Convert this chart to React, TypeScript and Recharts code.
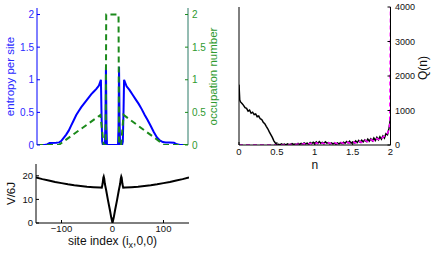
import { LineChart, Line, XAxis, YAxis } from "recharts";

const FONT = "'Liberation Sans', Arial, Helvetica, sans-serif";
const BLUE = "#0000ff";
const BLUE_TXT = "#2a2aff";
const GREEN = "#1b8a1b";
const GREEN_TXT = "#2f9a2f";
const MAGENTA = "#ff00ff";

// site index ticks / y ticks
const siteTicks = [-100, 0, 100];
const unitTicks = [0, 0.5, 1, 1.5, 2];
const vTicks = [0, 10, 20];
const nTicks = [0, 0.5, 1, 1.5, 2];
const qTicks = [0, 1000, 2000, 3000, 4000];

// entropy per site vs site index
const entropyPts: [number, number][] = [
  [-150, 0], [-135, 0], [-130, 0.01], [-125, 0.03], [-112, 0.035], [-106, 0.04],
  [-102, 0.06], [-97, 0.11], [-92, 0.16], [-87, 0.22], [-82, 0.3], [-77, 0.38],
  [-72, 0.46], [-67, 0.52], [-62, 0.58], [-57, 0.63], [-52, 0.68], [-47, 0.73],
  [-42, 0.78], [-37, 0.82], [-32, 0.86], [-27, 0.91], [-23, 1.0], [-22, 0.55],
  [-20.5, 0.05], [-19, 0], [-15, 0], [-14, 0.4], [-13, 1.2], [-12, 0.3], [-11, 0],
  [11, 0], [12, 0.3], [13, 1.2], [14, 0.4], [15, 0], [19, 0], [20.5, 0.05],
  [22, 0.55], [23, 1.0], [28, 0.9], [34, 0.84], [40, 0.77], [46, 0.7], [52, 0.63],
  [58, 0.55], [64, 0.46], [70, 0.38], [76, 0.29], [82, 0.2], [88, 0.12], [94, 0.07],
  [100, 0.045], [106, 0.04], [114, 0.04], [122, 0.035], [128, 0.01], [134, 0], [150, 0],
];

// occupation number vs site index
const occupationPts: [number, number][] = [
  [-150, 0], [-107, 0], [-24, 0.46], [-17.5, 0], [-13.5, 0], [-12.5, 2],
  [12, 2], [13, 0], [17, 0], [22, 0.46], [103, 0], [150, 0],
];

// trap potential V/6J vs site index
const potentialPts: [number, number][] = [
  [-150, 19.3], [-137.5, 18.6], [-125, 18.0], [-112.5, 17.4], [-100, 16.9],
  [-87.5, 16.4], [-75, 16.0], [-62.5, 15.7], [-50, 15.4], [-37.5, 15.2],
  [-25, 15.05], [-21, 15.0], [-19.5, 16.5], [-18, 19.2], [-17.2, 19.7],
  [-16.2, 18.8], [-15, 16.6], [-12.5, 14.0], [-9, 9.8], [-5, 5.4], [-2.5, 2.4],
  [0, 0], [2.5, 2.4], [5, 5.4], [9, 9.8], [12.5, 14.0], [15, 16.6], [16.2, 18.8],
  [17.2, 19.7], [18, 19.2], [19.5, 16.5], [21, 15.0], [25, 15.05], [37.5, 15.2],
  [50, 15.4], [62.5, 15.7], [75, 16.0], [87.5, 16.4], [100, 16.9], [112.5, 17.4],
  [125, 18.0], [137.5, 18.6], [150, 19.3],
];

// Q(n), black curve
const qBlackPts: [number, number][] = [
  [0, 1750], [0.01, 1300], [0.02, 1250], [0.04, 1200], [0.06, 1150], [0.08, 1080],
  [0.1, 1060], [0.12, 980], [0.14, 1010], [0.16, 920], [0.18, 950], [0.2, 880],
  [0.22, 900], [0.24, 820], [0.26, 840], [0.28, 760], [0.3, 740], [0.32, 660],
  [0.34, 620], [0.36, 540], [0.38, 470], [0.4, 380], [0.42, 300], [0.44, 220],
  [0.46, 120], [0.48, 60], [0.5, 10], [0.52, 20], [0.54, 5], [0.56, 30], [0.58, 10],
  [0.6, 25], [0.62, 5], [0.64, 35], [0.66, 10], [0.68, 20], [0.7, 40], [0.72, 15],
  [0.74, 30], [0.76, 10], [0.78, 45], [0.8, 20], [0.82, 50], [0.84, 25], [0.86, 60],
  [0.88, 30], [0.9, 55], [0.92, 20], [0.94, 70], [0.96, 40], [0.98, 80], [1.0, 35],
  [1.02, 90], [1.04, 45], [1.06, 100], [1.08, 50], [1.1, 75], [1.12, 40], [1.14, 95],
  [1.16, 55], [1.18, 70], [1.2, 35], [1.22, 60], [1.24, 30], [1.26, 55], [1.28, 25],
  [1.3, 60], [1.32, 35], [1.34, 70], [1.36, 40], [1.38, 80], [1.4, 50], [1.42, 100],
  [1.44, 60], [1.46, 110], [1.48, 55], [1.5, 90], [1.52, 60], [1.54, 120], [1.56, 70],
  [1.58, 130], [1.6, 80], [1.62, 140], [1.64, 90], [1.66, 150], [1.68, 100],
  [1.7, 170], [1.72, 110], [1.74, 180], [1.76, 120], [1.78, 200], [1.8, 130],
  [1.82, 220], [1.84, 150], [1.86, 240], [1.88, 170], [1.9, 260], [1.92, 200],
  [1.94, 330], [1.96, 300], [1.98, 480], [2.0, 780],
];

// Q(n), magenta dashed curve
const qMagentaPts: [number, number][] = [
  [0, 0], [0.5, 0], [0.54, 10], [0.58, 0], [0.62, 20], [0.66, 5], [0.7, 25],
  [0.74, 5], [0.78, 30], [0.82, 10], [0.86, 40], [0.9, 15], [0.94, 50], [0.98, 20],
  [1.02, 60], [1.06, 25], [1.1, 55], [1.14, 30], [1.18, 65], [1.22, 35], [1.26, 70],
  [1.3, 30], [1.34, 80], [1.38, 40], [1.42, 90], [1.46, 50], [1.5, 100], [1.54, 55],
  [1.58, 120], [1.62, 70], [1.66, 140], [1.7, 90], [1.74, 160], [1.78, 110],
  [1.82, 190], [1.86, 140], [1.9, 230], [1.94, 280], [1.97, 380], [1.99, 600],
  [2.0, 4000],
];

const toXY = (pts: [number, number][]) => pts.map(([x, y]) => ({ x, y }));

const fmt = (v: number) => (v < 0 ? `\u2212${-v}` : `${v}`);

const tickStyle = (fill: string, size = 9.5) => ({ fill, fontSize: size, fontFamily: FONT });

// rotated y label placed relative to the axis box
const yLabel = (text: string, dx: number, color: string, dy = 0, size = 11.5) => ({
  content: (props: any) => {
    const vb = props.viewBox || {};
    const cx = vb.x + dx;
    const cy = vb.y + vb.height / 2 + dy;
    return (
      <text
        x={cx}
        y={cy}
        transform={`rotate(-90 ${cx} ${cy})`}
        textAnchor="middle"
        dominantBaseline="central"
        fill={color}
        fontSize={size}
        fontFamily={FONT}
      >
        {text}
      </text>
    );
  },
});

function EntropyPanel() {
  return (
    <LineChart width={230} height={150} margin={{ top: 8, right: 0, bottom: 5, left: 0 }}>
      <XAxis xAxisId="b" type="number" dataKey="x" domain={[-150, 150]} ticks={siteTicks}
        interval={0} tick={false} height={0} axisLine={{ stroke: "#666" }}
        tickLine={{ stroke: "#666" }} tickSize={-3} allowDataOverflow />
      <XAxis xAxisId="t" orientation="top" type="number" dataKey="x" domain={[-150, 150]}
        ticks={siteTicks} interval={0} tick={false} height={0} axisLine={{ stroke: "#333" }}
        tickLine={{ stroke: "#333" }} tickSize={-3} allowDataOverflow />
      <YAxis yAxisId="s" type="number" domain={[0, 2.1]} ticks={unitTicks} interval={0}
        width={37} axisLine={{ stroke: BLUE }} tickLine={{ stroke: BLUE }} tickSize={-3}
        tickMargin={6} tick={tickStyle(BLUE_TXT, 10)} allowDataOverflow
        label={yLabel("entropy per site", 10, BLUE_TXT)} />
      <YAxis yAxisId="n" orientation="right" type="number" domain={[0, 2.1]} ticks={unitTicks}
        interval={0} width={42} axisLine={{ stroke: "#2a7a66" }} tickLine={{ stroke: GREEN }}
        tickSize={-3} tickMargin={7} tick={tickStyle(GREEN_TXT, 10)} allowDataOverflow
        label={yLabel("occupation number", 25, GREEN_TXT)} />
      <Line xAxisId="b" yAxisId="s" data={toXY(entropyPts)} dataKey="y" type="linear"
        stroke={BLUE} strokeWidth={2} dot={false} isAnimationActive={false} />
      <Line xAxisId="b" yAxisId="n" data={toXY(occupationPts)} dataKey="y" type="linear"
        stroke={GREEN} strokeWidth={2} strokeDasharray="6 4" dot={false}
        isAnimationActive={false} />
    </LineChart>
  );
}

function PotentialPanel() {
  const xLabel = {
    content: (props: any) => {
      const vb = props.viewBox || {};
      const cx = vb.x + vb.width / 2;
      const y = vb.y + 22;
      return (
        <text x={cx} y={y} textAnchor="middle" fill="#111" fontSize={12} fontFamily={FONT}>
          site index (i<tspan dy={3} fontSize={9}>x</tspan>
          <tspan dy={-3}>,0,0)</tspan>
        </text>
      );
    },
  };
  return (
    <LineChart width={220} height={106} margin={{ top: 14, right: 31, bottom: 0, left: 0 }}>
      <XAxis xAxisId="b" type="number" dataKey="x" domain={[-150, 150]} ticks={siteTicks}
        interval={0} tickFormatter={fmt} height={33} axisLine={{ stroke: "#000" }}
        tickLine={{ stroke: "#000" }} tickSize={-3} tickMargin={5} tick={tickStyle("#111", 9.5)}
        allowDataOverflow label={xLabel} />
      <XAxis xAxisId="t" orientation="top" type="number" dataKey="x" domain={[-150, 150]}
        ticks={siteTicks} interval={0} tick={false} height={0} axisLine={{ stroke: "#000" }}
        tickLine={{ stroke: "#000" }} tickSize={-3} allowDataOverflow />
      <YAxis yAxisId="v" type="number" domain={[0, 25]} ticks={vTicks} interval={0} width={36}
        axisLine={{ stroke: "#000" }} tickLine={{ stroke: "#000" }} tickSize={-3} tickMargin={6}
        tick={tickStyle("#111", 9.5)} allowDataOverflow label={yLabel("V/6J", 11, "#111")} />
      <YAxis yAxisId="r" orientation="right" type="number" domain={[0, 25]} ticks={vTicks}
        interval={0} width={0} tick={false} axisLine={{ stroke: "#000" }}
        tickLine={{ stroke: "#000" }} tickSize={-3} />
      <Line xAxisId="b" yAxisId="v" data={toXY(potentialPts)} dataKey="y" type="linear"
        stroke="#000" strokeWidth={2} dot={false} isAnimationActive={false} />
    </LineChart>
  );
}

function QPanel() {
  const nLabel = {
    content: (props: any) => {
      const vb = props.viewBox || {};
      return (
        <text x={vb.x + vb.width / 2} y={vb.y + 24} textAnchor="middle" fill="#111"
          fontSize={12} fontFamily={FONT}>
          n
        </text>
      );
    },
  };
  return (
    <LineChart width={216} height={175} margin={{ top: 7, right: 0, bottom: 0, left: 0 }}>
      <XAxis xAxisId="b" type="number" dataKey="x" domain={[0, 2]} ticks={nTicks} interval={0}
        height={30} axisLine={{ stroke: "#000" }} tickLine={{ stroke: "#000" }} tickSize={-3}
        tickMargin={6} tick={tickStyle("#111", 9.5)} allowDataOverflow label={nLabel} />
      <XAxis xAxisId="t" orientation="top" type="number" dataKey="x" domain={[0, 2]}
        ticks={nTicks} interval={0} tick={false} height={0} axisLine={{ stroke: "#000" }}
        tickLine={{ stroke: "#000" }} tickSize={-3} allowDataOverflow />
      <YAxis yAxisId="l" type="number" domain={[0, 4000]} ticks={qTicks} interval={0}
        width={19} tick={false} axisLine={{ stroke: "#000" }} tickLine={{ stroke: "#000" }}
        tickSize={-3} allowDataOverflow />
      <YAxis yAxisId="q" orientation="right" type="number" domain={[0, 4000]} ticks={qTicks}
        interval={0} width={45.5} axisLine={{ stroke: "#000" }} tickLine={{ stroke: "#000" }}
        tickSize={-3} tickMargin={7.5} tick={tickStyle("#111", 9)} allowDataOverflow
        label={yLabel("Q(n)", 32, "#111", -8, 12)} />
      <Line xAxisId="b" yAxisId="q" data={toXY(qBlackPts)} dataKey="y" type="linear"
        stroke="#000" strokeWidth={1.5} dot={false} isAnimationActive={false} />
      <Line xAxisId="b" yAxisId="q" data={toXY(qMagentaPts)} dataKey="y" type="linear"
        stroke={MAGENTA} strokeWidth={1.5} strokeDasharray="4 3" dot={false}
        isAnimationActive={false} />
    </LineChart>
  );
}

export default function App() {
  return (
    <div style={{ position: "absolute", left: 0, top: 0, width: 436, height: 256, background: "#fff" }}>
      <div style={{ position: "absolute", left: 0, top: 0 }}>
        <EntropyPanel />
      </div>
      <div style={{ position: "absolute", left: 0, top: 150 }}>
        <PotentialPanel />
      </div>
      <div style={{ position: "absolute", left: 220, top: 0 }}>
        <QPanel />
      </div>
    </div>
  );
}
